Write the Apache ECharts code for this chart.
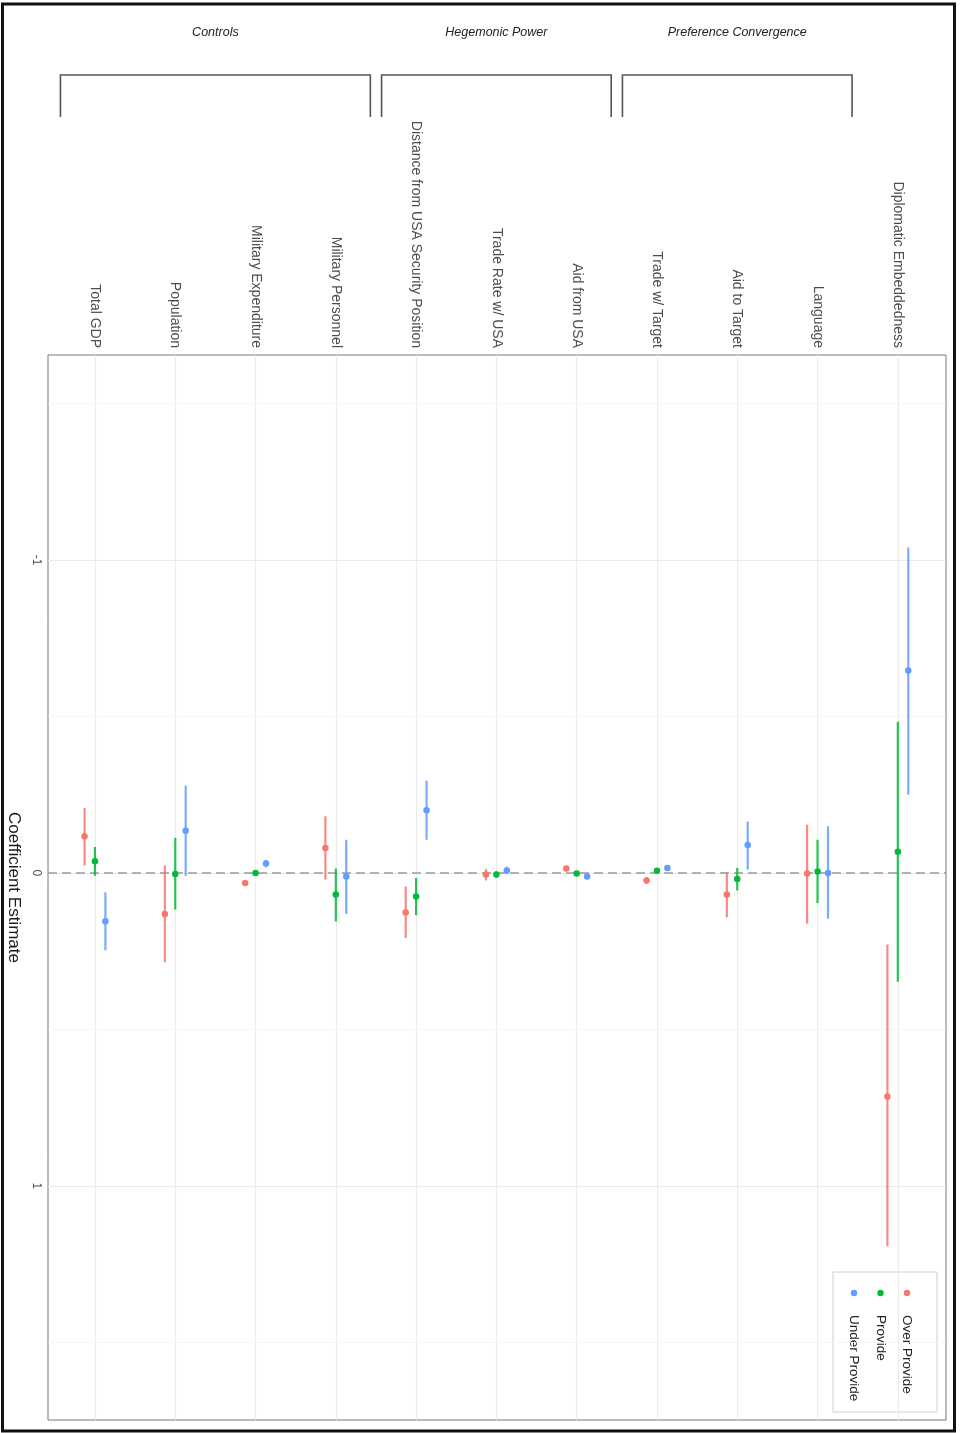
<!DOCTYPE html>
<html>
<head>
<meta charset="utf-8">
<script src="https://cdn.jsdelivr.net/npm/echarts@6/dist/echarts.min.js"></script>
<style>
html, body { margin: 0; padding: 0; background: #fff; }
#chart { width: 964px; height: 1433px; }
</style>
</head>
<body>
<div id="chart"></div>
<script>
// categories along the (rotated) x axis
const categories = [
    'Total GDP', 'Population', 'Military Expenditure', 'Military Personnel',
    'Distance from USA Security Position', 'Trade Rate w/ USA', 'Aid from USA',
    'Trade w/ Target', 'Aid to Target', 'Language', 'Diplomatic Embeddedness'
];
const groupNames = ['Controls', 'Hegemonic Power', 'Preference Convergence'];
const groupFirst = [0, 4, 7];
const groupLast = [3, 6, 9];

const seriesNames = ['Over Provide', 'Provide', 'Under Provide'];

// coefficient estimates and interval ends
const overEst  = [-0.117, 0.131, 0.032, -0.080, 0.126, 0.005, -0.014, 0.024, 0.069, 0.002, 0.714];
const overLow  = [-0.208, -0.024, 0.024, -0.181, 0.043, -0.013, -0.020, 0.013, -0.002, -0.154, 0.229];
const overHigh = [-0.024, 0.285, 0.040, 0.021, 0.208, 0.024, -0.008, 0.035, 0.142, 0.162, 1.193];

const provEst  = [-0.037, 0.003, 0.000, 0.069, 0.075, 0.005, 0.002, -0.007, 0.019, -0.005, -0.068];
const provLow  = [-0.083, -0.112, -0.005, -0.014, 0.016, -0.005, -0.003, -0.012, -0.016, -0.106, -0.483];
const provHigh = [0.009, 0.117, 0.005, 0.155, 0.135, 0.015, 0.007, -0.002, 0.056, 0.096, 0.348];

const underEst  = [0.154, -0.135, -0.030, 0.011, -0.200, -0.008, 0.011, -0.016, -0.089, 0.000, -0.647];
const underLow  = [0.062, -0.279, -0.042, -0.106, -0.295, -0.020, 0.004, -0.022, -0.164, -0.149, -1.040];
const underHigh = [0.247, 0.009, -0.018, 0.131, -0.106, 0.004, 0.018, -0.010, -0.011, 0.146, -0.250];

const yTicks = [-1, 0, 1];
const yMinor = [-1.5, -0.5, 0.5, 1.5];

const colors = ['#F8766D', '#00BA38', '#619CFF'];
const dodge = [-0.13, 0, 0.13];
const est = [overEst, provEst, underEst];
const low = [overLow, provLow, underLow];
const high = [overHigh, provHigh, underHigh];
const font = 'Liberation Sans, Arial, sans-serif';

const chart = echarts.init(document.getElementById('chart'));

const gridLines = categories.map((c, i) => ({ xAxis: i, lineStyle: { color: '#ebebeb', width: 1.1 } }))
    .concat(yTicks.map(v => ({ yAxis: v, lineStyle: { color: '#ebebeb', width: 1.1 } })))
    .concat(yMinor.map(v => ({ yAxis: v, lineStyle: { color: '#f2f2f2', width: 0.7 } })));

const series = [
    {
        type: 'line', data: [], z: 1, silent: true,
        markLine: {
            z: 1, silent: true, symbol: 'none', animation: false,
            label: { show: false },
            lineStyle: { type: 'solid' },
            data: gridLines
        }
    },
    {
        type: 'line', data: [], z: 2, silent: true,
        markLine: {
            z: 2, silent: true, symbol: 'none', animation: false,
            label: { show: false },
            lineStyle: { color: '#9a9a9a', width: 1.5, type: [9, 5] },
            data: [{ yAxis: 0 }]
        }
    }
];

seriesNames.forEach((name, k) => {
    series.push({
        name: name + ' CI',
        type: 'custom',
        z: 3,
        silent: true,
        data: categories.map((c, i) => [i + dodge[k], low[k][i], high[k][i]]),
        encode: { x: 0, y: [1, 2] },
        renderItem: (params, api) => {
            const a = api.coord([api.value(0), api.value(1)]);
            const b = api.coord([api.value(0), api.value(2)]);
            return {
                type: 'line',
                shape: { x1: a[0], y1: a[1], x2: b[0], y2: b[1] },
                style: { stroke: colors[k], lineWidth: 2.2, opacity: 0.85 }
            };
        }
    });
});
seriesNames.forEach((name, k) => {
    series.push({
        name: name,
        type: 'scatter',
        z: 4,
        symbolSize: 6.5,
        itemStyle: { color: colors[k], opacity: 1 },
        data: categories.map((c, i) => [i + dodge[k], est[k][i]])
    });
});

const option = {
    animation: false,
    backgroundColor: '#fff',
    textStyle: { fontFamily: font },
    grid: {
        left: 48, right: 18, top: 355, bottom: 13,
        outerBoundsMode: 'none',
        containLabel: false,
        show: true, borderColor: '#777', borderWidth: 1, backgroundColor: '#fff'
    },
    xAxis: {
        type: 'value',
        position: 'top',
        min: -0.585,
        max: 10.6,
        axisLine: { show: false },
        splitLine: { show: false },
        axisTick: {
            show: true, length: 4, customValues: categories.map((c, i) => i),
            lineStyle: { color: '#333' }
        },
        axisLabel: {
            customValues: categories.map((c, i) => i),
            formatter: v => categories[Math.round(v)],
            rotate: -90,
            margin: 7,
            fontSize: 14,
            color: '#4d4d4d'
        }
    },
    yAxis: {
        type: 'value',
        inverse: true,
        min: -1.655,
        max: 1.748,
        axisLine: { show: false },
        splitLine: { show: false },
        axisTick: { show: true, length: 4, customValues: yTicks, lineStyle: { color: '#333' } },
        axisLabel: {
            customValues: yTicks,
            rotate: -90,
            margin: 6,
            fontSize: 12,
            color: '#4d4d4d'
        },
        name: 'Coefficient Estimate',
        nameLocation: 'middle',
        nameRotate: -90,
        nameGap: 24,
        nameTextStyle: { fontSize: 17, color: '#1a1a1a' }
    },
    series: series
};
chart.setOption(option);

// annotations: frame, group brackets, rotated legend
const px = v => chart.convertToPixel({ xAxisIndex: 0 }, v);
const graphics = [{
    type: 'rect', silent: true, z: 100,
    shape: { x: 2.5, y: 4, width: 952, height: 1427 },
    style: { fill: 'none', stroke: '#111', lineWidth: 3 }
}];
groupNames.forEach((g, j) => {
    const x0 = px(groupFirst[j] - 0.43);
    const x1 = px(groupLast[j] + 0.43);
    graphics.push({
        type: 'polyline', silent: true, z: 100,
        shape: { points: [[x0, 117], [x0, 75], [x1, 75], [x1, 117]] },
        style: { fill: 'none', stroke: '#555', lineWidth: 1.6 }
    });
    graphics.push({
        type: 'text', silent: true, z: 100,
        x: (x0 + x1) / 2, y: 33,
        style: {
            text: g, fontSize: 12.5, fontStyle: 'italic', fontFamily: font,
            fill: '#222', align: 'center', verticalAlign: 'middle'
        }
    });
});
const legendChildren = [{
    type: 'rect',
    shape: { x: -21, y: -30, width: 140, height: 104 },
    style: { fill: '#fff', stroke: '#cfcfcf', lineWidth: 1 }
}];
seriesNames.forEach((name, k) => {
    legendChildren.push({
        type: 'circle',
        shape: { cx: 0, cy: k * 26.5, r: 3.2 },
        style: { fill: colors[k] }
    });
    legendChildren.push({
        type: 'text',
        x: 22, y: k * 26.5,
        style: {
            text: name, fontSize: 13.5, fontFamily: font,
            fill: '#222', align: 'left', verticalAlign: 'middle'
        }
    });
});
graphics.push({
    type: 'group', silent: true, z: 100,
    x: 907, y: 1293, rotation: -Math.PI / 2,
    children: legendChildren
});
chart.setOption({ graphic: graphics });
</script>
</body>
</html>
